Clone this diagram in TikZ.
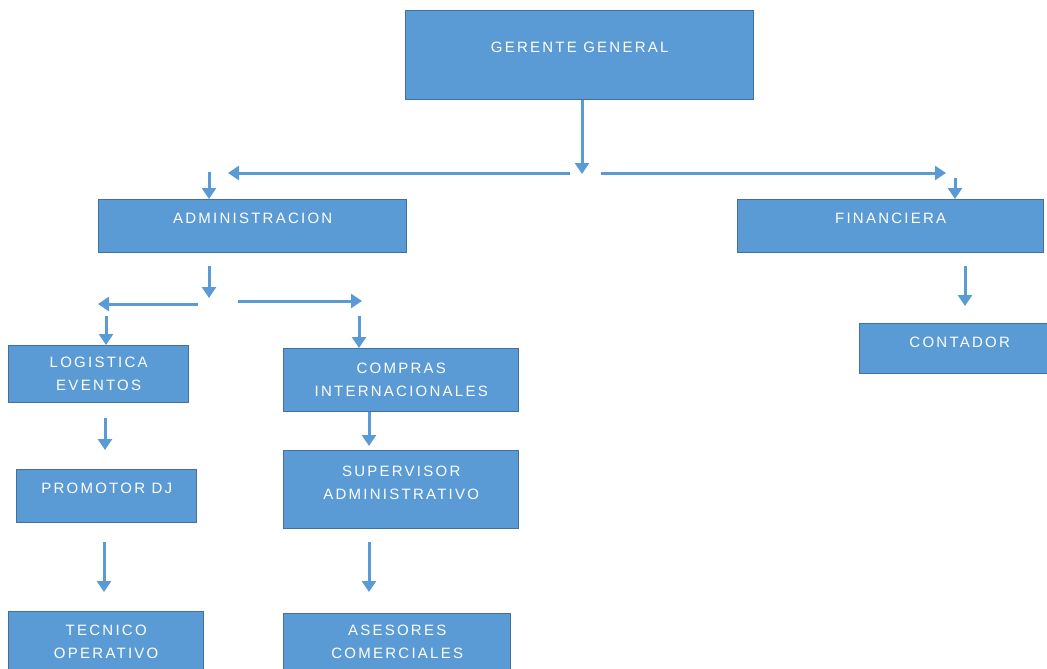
\documentclass[tikz,border=0pt]{standalone}
\usepackage{fontspec}
\newfontfamily\boxfont[LetterSpace=15]{Liberation Sans}
\usetikzlibrary{arrows.meta}
\definecolor{boxfill}{HTML}{5B9BD5}
\definecolor{boxline}{HTML}{41719C}
\definecolor{arrowc}{HTML}{5B9BD5}
\tikzset{
  orgbox/.style={draw=boxline, line width=1.4pt, fill=boxfill, text=white,
    font=\boxfont\fontsize{15}{23}\selectfont, align=center, inner sep=0pt,
    anchor=north west},
  upper/.style={text height=11pt, text depth=17pt},
  arr/.style={draw=arrowc, line width=3pt, -{Triangle[width=14pt,length=11pt]}}
}
\begin{document}
\begin{tikzpicture}[x=1pt,y=-1pt]
\path[use as bounding box] (0,0) rectangle (1047,669);
\clip (0,0) rectangle (1047,669);
% boxes
\node[orgbox, upper, minimum width=348pt, minimum height=89pt] (gg) at (405,10) {GERENTE GENERAL};
\node[orgbox, upper, minimum width=308pt, minimum height=53pt] (adm) at (98,199) {ADMINISTRACION};
\node[orgbox, upper, minimum width=306pt, minimum height=53pt] (fin) at (737,199) {FINANCIERA};
\node[orgbox, text height=11pt, text depth=14pt, minimum width=200pt, minimum height=50pt] (con) at (859,323) {CONTADOR};
\node[orgbox, minimum width=180pt, minimum height=57pt] (log) at (8,345) {LOGISTICA\\EVENTOS};
\node[orgbox, minimum width=235pt, minimum height=63pt] (cmp) at (283,348) {COMPRAS\\INTERNACIONALES};
\node[orgbox, text depth=14pt, minimum width=235pt, minimum height=78pt] (sup) at (283,450) {SUPERVISOR\\ADMINISTRATIVO};
\node[orgbox, upper, minimum width=180pt, minimum height=53pt] (pro) at (16,469) {PROMOTOR DJ};
\node[orgbox, minimum width=195pt, minimum height=60pt] (tec) at (8,611) {TECNICO\\OPERATIVO};
\node[orgbox, minimum width=227pt, minimum height=57pt] (ase) at (283,613) {ASESORES\\COMERCIALES};
% arrow end points
\coordinate (j1) at (582,174);
\coordinate (l1s) at (570,173); \coordinate (l1e) at (228,173);
\coordinate (r1s) at (601,173); \coordinate (r1e) at (946,173);
\coordinate (da1) at (209,172);
\coordinate (df1) at (955,178);
\coordinate (a6s) at (209,266); \coordinate (a6e) at (209,298);
\coordinate (l2s) at (198,304); \coordinate (l2e) at (98,304);
\coordinate (r2s) at (238,301); \coordinate (r2e) at (362,301);
\coordinate (dl2) at (106,316);
\coordinate (dc2) at (359,316);
\coordinate (f2s) at (965,266); \coordinate (f2e) at (965,306);
\coordinate (c3e) at (369,446);
\coordinate (g3s) at (105,418); \coordinate (g3e) at (105,450);
\coordinate (p4s) at (104,542); \coordinate (p4e) at (104,592);
\coordinate (s4s) at (369,542); \coordinate (s4e) at (369,592);
% arrows
\draw[arr] (j1 |- gg.south) -- (j1);
\draw[arr] (l1s) -- (l1e);
\draw[arr] (r1s) -- (r1e);
\draw[arr] (da1) -- (da1 |- adm.north);
\draw[arr] (df1) -- (df1 |- fin.north);
\draw[arr] (a6s) -- (a6e);
\draw[arr] (l2s) -- (l2e);
\draw[arr] (r2s) -- (r2e);
\draw[arr] (dl2) -- (dl2 |- log.north);
\draw[arr] (dc2) -- (dc2 |- cmp.north);
\draw[arr] (f2s) -- (f2e);
\draw[arr] (c3e |- cmp.south) -- (c3e);
\draw[arr] (g3s) -- (g3e);
\draw[arr] (p4s) -- (p4e);
\draw[arr] (s4s) -- (s4e);
\end{tikzpicture}
\end{document}
